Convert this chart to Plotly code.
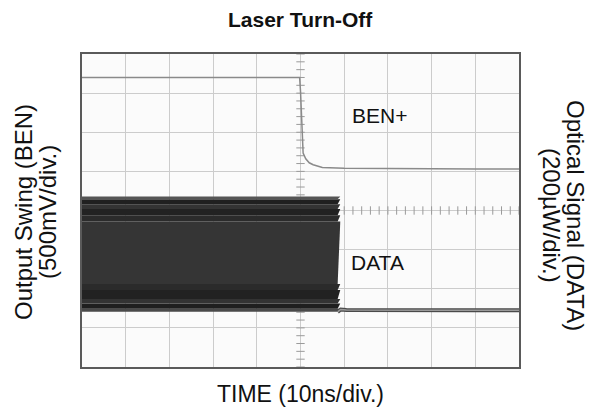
import numpy as np
import plotly.graph_objects as go

# ---- data (time in ns, amplitude in screen divisions) ----
ben_t_ns = [0, 49.8, 50.0, 50.2, 50.6, 51.2, 52.0, 52.9, 55, 60, 70, 80, 90, 100]
ben_div = [7.4, 7.4, 7.05, 6.6, 5.47, 5.32, 5.22, 5.17, 5.10, 5.08, 5.07, 5.07, 5.06, 5.06]

data_on_end_ns = 58.5
# eye-band intensity profile (bottom edge, top edge in div, grey level)
band_lo = [1.41, 1.49, 1.62, 1.74, 1.97, 2.12, 3.72, 3.88, 4.04, 4.16, 4.29]
band_hi = [1.49, 1.62, 1.74, 1.97, 2.12, 3.72, 3.88, 4.04, 4.16, 4.29, 4.36]
band_grey = ["#4a4a4a", "#1f1f1f", "#333333", "#222222", "#2b2b2b", "#353535",
             "#2b2b2b", "#222222", "#343434", "#202020", "#555555"]

data_off_t_ns = [58.5, 59.2, 60.5, 70, 80, 90, 100]
data_off_div = [1.41, 1.47, 1.46, 1.45, 1.45, 1.45, 1.45]

fig = go.Figure()

# centre graticule minor ticks
tick_x = list(np.round(np.arange(0, 100.01, 2), 3))
tick_y = list(np.round(np.arange(0, 8.001, 0.2), 3))
fig.add_trace(go.Scatter(x=tick_x, y=[4] * len(tick_x), mode="markers",
                         marker=dict(symbol="line-ns", size=6, line=dict(color="#9a9a9a", width=1)),
                         hoverinfo="skip", showlegend=False))
fig.add_trace(go.Scatter(x=[50] * len(tick_y), y=tick_y, mode="markers",
                         marker=dict(symbol="line-ew", size=6, line=dict(color="#9a9a9a", width=1)),
                         hoverinfo="skip", showlegend=False))

# DATA eye band (laser on)
for lo, hi, col in zip(band_lo, band_hi, band_grey):
    fig.add_trace(go.Scatter(x=[0, data_on_end_ns, data_on_end_ns + 0.6, 0, 0],
                             y=[lo, lo, hi, hi, lo], mode="lines", fill="toself",
                             fillcolor=col, line=dict(width=0, color=col),
                             hoverinfo="skip", showlegend=False))

# DATA after turn-off
fig.add_trace(go.Scatter(x=data_off_t_ns, y=data_off_div, mode="lines",
                         line=dict(color="#4a4a4a", width=4), showlegend=False))
fig.add_trace(go.Scatter(x=data_off_t_ns, y=data_off_div, mode="lines",
                         line=dict(color="#9a9a9a", width=1.5), showlegend=False))

# BEN+
fig.add_trace(go.Scatter(x=ben_t_ns, y=ben_div, mode="lines",
                         line=dict(color="#8a8a8a", width=1.5), showlegend=False))

# page body has an 8px margin: figure is drawn 8px right/down of the window corner
OFF = 8
W, H = 600 - OFF, 411 - OFF
pl, pt = 82 - OFF, 54 - OFF
pr, pb = W - (519 - OFF), H - (367 - OFF)
pw, ph = W - pl - pr, H - pt - pb

def px_to_paper(xp, yp):
    # reference-window pixels -> paper coords
    xf, yf = xp - OFF, yp - OFF
    return (xf - pl) / pw, (H - pb - yf) / ph

font_family = "Liberation Sans, Arial, sans-serif"

def label(text, xp, yp, size, angle=0):
    x, y = px_to_paper(xp, yp)
    return dict(text=text, x=x, y=y, xref="paper", yref="paper", xanchor="center",
                yanchor="middle", showarrow=False, textangle=angle, font=dict(size=size))

fig.update_layout(
    width=W, height=H,
    margin=dict(l=pl, r=pr, t=pt, b=pb),
    paper_bgcolor="white", plot_bgcolor="#fbfbfb",
    font=dict(family=font_family, color="#111111"),
    xaxis=dict(range=[0, 100], dtick=10, showticklabels=False, ticks="",
               showgrid=True, gridcolor="#cccccc", gridwidth=1, zeroline=False,
               showline=True, mirror=True, linecolor="#5a5a5a", linewidth=2),
    yaxis=dict(range=[0, 8], dtick=1, showticklabels=False, ticks="",
               showgrid=True, gridcolor="#cccccc", gridwidth=1, zeroline=False,
               showline=True, mirror=True, linecolor="#5a5a5a", linewidth=2),
    annotations=[
        label("<b>Laser Turn-Off</b>", 300, 20, 21),
        label("TIME (10ns/div.)", 300, 394, 23),
        label("Output Swing (BEN)", 23, 212, 24, -90),
        label("(500mV/div.)", 47, 212, 24, -90),
        label("Optical Signal (DATA)", 576, 215, 24, 90),
        label("(200\u00b5W/div.)", 552, 215, 24, 90),
        dict(text="BEN+", x=68, y=6.42, xref="x", yref="y", showarrow=False, font=dict(size=21)),
        dict(text="DATA", x=67.7, y=2.66, xref="x", yref="y", showarrow=False, font=dict(size=21)),
    ],
)

fig.write_html("out.html")
